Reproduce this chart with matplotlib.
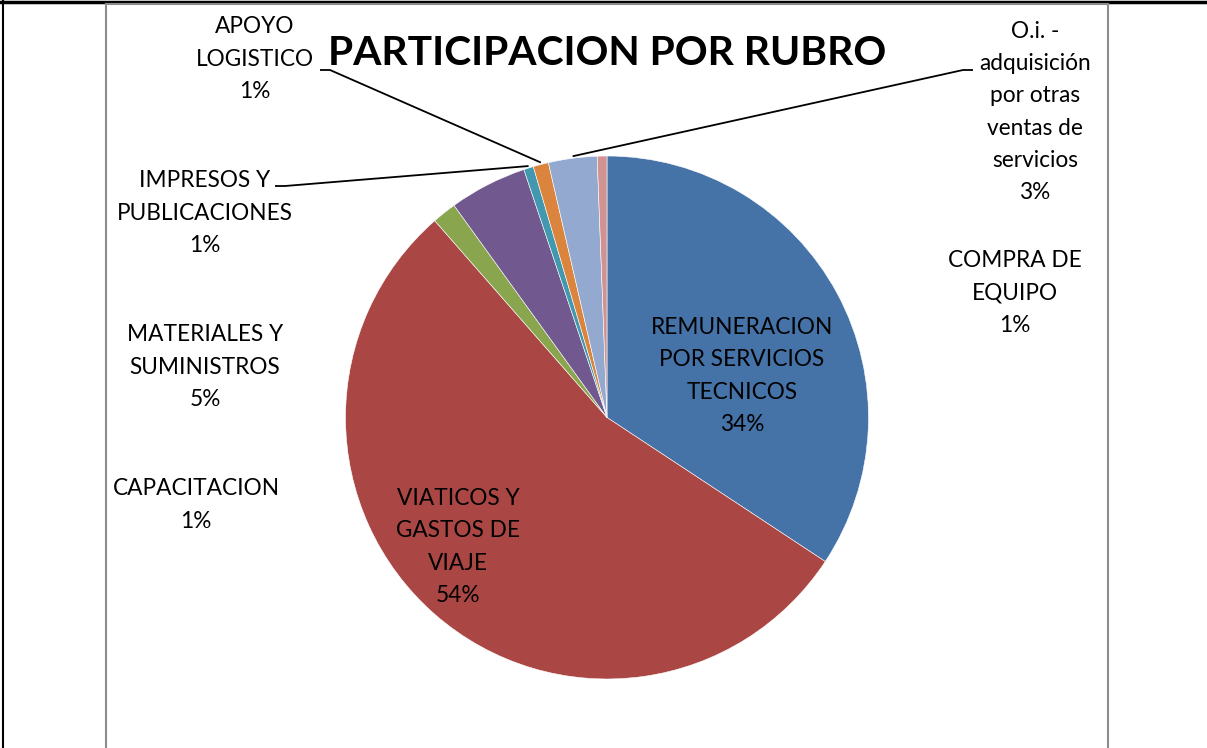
import numpy as np
import matplotlib
matplotlib.use("Agg")
import matplotlib.pyplot as plt

# data (clockwise from 12 o'clock, like the Excel pie)
rubros = ["REMUNERACION\nPOR SERVICIOS\nTECNICOS",
          "VIATICOS Y\nGASTOS DE\nVIAJE",
          "CAPACITACION",
          "MATERIALES Y\nSUMINISTROS",
          "IMPRESOS Y\nPUBLICACIONES",
          "APOYO\nLOGISTICO",
          "O.i. -\nadquisición\npor otras\nventas de\nservicios",
          "COMPRA DE\nEQUIPO"]
valores = [34.3, 54.3, 1.5, 4.8, 0.6, 0.95, 3.0, 0.6]
colores = ["#4572A7", "#AA4643", "#89A54E", "#71588F",
           "#4198AF", "#DB843D", "#93A9CF", "#D19392"]

W, H = 1207, 748
plt.rcParams['font.family'] = ['Lato', 'DejaVu Sans']

fig = plt.figure(figsize=(W / 100, H / 100), dpi=100)
ax = fig.add_axes([0, 0, 1, 1])

def py(y):
    # pixel row -> data y
    return H - y

cx, cy, R = 607, py(417.5), 261.5
wedges, _ = ax.pie(valores, colors=colores, startangle=90, counterclock=False,
                   center=(cx, cy), radius=R, frame=True,
                   wedgeprops=dict(edgecolor='white', linewidth=0.4))
ax.set_xlim(0, W)
ax.set_ylim(0, H)
ax.set_aspect('equal')
ax.axis('off')

total = sum(valores)
pct = [f"{round(v / total * 100):.0f}%" for v in valores]

# label positions (center of text block, pixels)
pos = [(742, 376), (458, 547), (196, 505), (205, 367), (205, 213),
       (255, 59), (1035, 112), (1015, 293)]
fs = 16.3
for i, (x, y) in enumerate(pos):
    ax.text(x, py(y), rubros[i] + "\n" + pct[i], ha='center', va='center',
            fontsize=fs, linespacing=1.66, color='black')

# leader lines for the small slices
def edge_point(w, frac=0.5, r=1.0):
    th = np.deg2rad(w.theta1 + (w.theta2 - w.theta1) * frac)
    return cx + R * r * np.cos(th), cy + R * r * np.sin(th)

leaders = [(5, (320, 70), 1), (4, (275, 186), 1), (6, (973, 70), -1)]
for idx, (x0, y0), d in leaders:
    ex, ey = edge_point(wedges[idx])
    ax.plot([x0, x0 + 10 * d, ex], [py(y0), py(y0), ey + 2],
            color='black', lw=1.3, solid_capstyle='butt')

ax.text(607, py(53), "PARTICIPACION POR RUBRO", ha='center', va='center',
        fontsize=29.3, fontweight='bold', color='black')

# page / chart frame
ax.plot([0, W], [py(1.5), py(1.5)], color='black', lw=2.5)
ax.plot([3, 3], [0, H], color='black', lw=1.5)
ax.plot([106, 106], [0, py(4)], color='#8c8c8c', lw=1.5)
ax.plot([1108, 1108], [0, py(4)], color='#8c8c8c', lw=1.5)
ax.plot([106, 1108], [py(4), py(4)], color='#8c8c8c', lw=1.5)

fig.savefig("out.png", dpi=100)
